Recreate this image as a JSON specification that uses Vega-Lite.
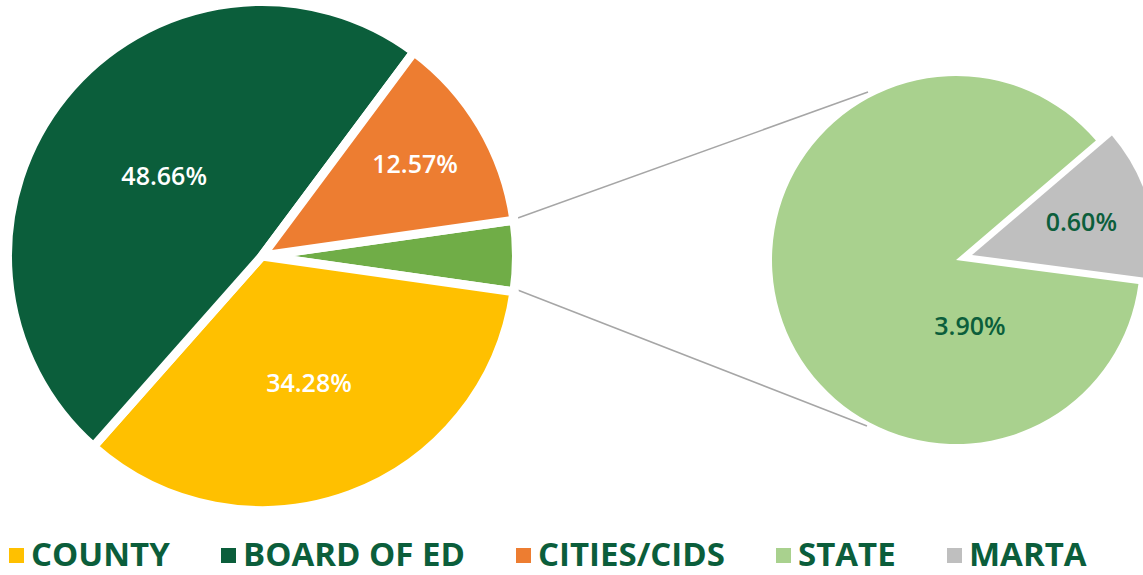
{
  "$schema": "https://vega.github.io/schema/vega-lite/v6.json",
  "width": 1143,
  "height": 575,
  "padding": 0,
  "autosize": {"type": "none"},
  "background": "white",
  "config": {"view": {"stroke": null}, "font": "Open Sans"},
  "datasets": {
    "main": [
      {"category": "STATE + MARTA", "value": 0.0449, "order": 1},
      {"category": "COUNTY", "value": 0.3428, "order": 2},
      {"category": "BOARD OF ED", "value": 0.4866, "order": 3},
      {"category": "CITIES/CIDS", "value": 0.1257, "order": 4}
    ],
    "detail": [
      {"category": "MARTA", "value": 0.006, "order": 1},
      {"category": "STATE", "value": 0.039, "order": 2}
    ]
  },
  "layer": [
    {
      "data": {"values": [{}]},
      "mark": {"type": "rule", "color": "#A6A6A6", "strokeWidth": 1.5},
      "encoding": {
        "x": {"datum": 45.06, "type": "quantitative", "scale": {"domain": [0, 100]}, "axis": null},
        "y": {"datum": 38.09, "type": "quantitative", "scale": {"domain": [100, 0]}, "axis": null},
        "x2": {"datum": 75.94},
        "y2": {"datum": 16.0}
      }
    },
    {
      "data": {"values": [{}]},
      "mark": {"type": "rule", "color": "#A6A6A6", "strokeWidth": 1.5},
      "encoding": {
        "x": {"datum": 45.06, "type": "quantitative", "scale": {"domain": [0, 100]}, "axis": null},
        "y": {"datum": 50.26, "type": "quantitative", "scale": {"domain": [100, 0]}, "axis": null},
        "x2": {"datum": 75.85},
        "y2": {"datum": 74.09}
      }
    },
    {
      "data": {"name": "main"},
      "encoding": {
        "x": {"datum": 22.92, "type": "quantitative", "scale": {"domain": [0, 100]}, "axis": null},
        "y": {"datum": 44.52, "type": "quantitative", "scale": {"domain": [100, 0]}, "axis": null},
        "theta": {"field": "value", "type": "quantitative", "stack": true, "scale": {"range": [1.4298, 7.713]}},
        "order": {"field": "order", "type": "quantitative"}
      },
      "layer": [
        {
          "mark": {"type": "arc", "outerRadius": 254.5, "stroke": "white", "strokeWidth": 9, "strokeJoin": "round"},
          "encoding": {
            "color": {
              "field": "category",
              "type": "nominal",
              "scale": {
                "domain": ["COUNTY", "BOARD OF ED", "CITIES/CIDS", "STATE", "MARTA", "STATE + MARTA"],
                "range": ["#FFC000", "#0B5E3B", "#ED7D31", "#A9D18E", "#BFBFBF", "#70AD47"]
              },
              "legend": {
                "values": ["COUNTY", "BOARD OF ED", "CITIES/CIDS", "STATE", "MARTA"],
                "orient": "none",
                "legendX": 0,
                "legendY": 539,
                "direction": "horizontal",
                "gridAlign": "none",
                "title": null,
                "symbolType": "square",
                "symbolSize": 225,
                "symbolStrokeWidth": 0,
                "labelFont": "Open Sans",
                "labelFontSize": 33,
                "labelFontWeight": "bold",
                "labelColor": "#0B5E3B",
                "labelLimit": 600,
                "labelOffset": -2,
                "columnPadding": 42,
                "padding": 0
              }
            }
          }
        },
        {
          "mark": {"type": "text", "font": "Open Sans", "fontSize": 25, "fontWeight": 600, "fill": "white"},
          "encoding": {
            "detail": {"field": "category", "type": "nominal"},
            "radius": {
              "field": "value",
              "type": "quantitative",
              "scale": {"type": "linear", "domain": [0.1257, 0.3428, 0.4866], "range": [178, 136, 126], "zero": false, "clamp": true}
            },
            "text": {
              "condition": {"test": "datum.category === 'STATE + MARTA'", "value": ""},
              "field": "value",
              "type": "quantitative",
              "format": ".2%"
            }
          }
        }
      ]
    },
    {
      "data": {"name": "detail"},
      "encoding": {
        "theta": {"field": "value", "type": "quantitative", "stack": true, "scale": {"range": [0.8639, 7.1471]}},
        "order": {"field": "order", "type": "quantitative"}
      },
      "layer": [
        {
          "mark": {"type": "arc", "outerRadius": 184},
          "encoding": {
            "x": {"datum": 83.64, "type": "quantitative", "scale": {"domain": [0, 100]}, "axis": null},
            "y": {"datum": 45.22, "type": "quantitative", "scale": {"domain": [100, 0]}, "axis": null},
            "color": {
              "field": "category",
              "type": "nominal",
              "scale": {
                "domain": ["COUNTY", "BOARD OF ED", "CITIES/CIDS", "STATE", "MARTA", "STATE + MARTA"],
                "range": ["#FFC000", "#0B5E3B", "#ED7D31", "#A9D18E", "#BFBFBF", "#70AD47"]
              }
            },
            "opacity": {"condition": {"test": "datum.category === 'MARTA'", "value": 0}, "value": 1}
          }
        },
        {
          "mark": {"type": "arc", "outerRadius": 184},
          "encoding": {
            "x": {"datum": 85.04, "type": "quantitative", "scale": {"domain": [0, 100]}, "axis": null},
            "y": {"datum": 44.35, "type": "quantitative", "scale": {"domain": [100, 0]}, "axis": null},
            "color": {
              "field": "category",
              "type": "nominal",
              "scale": {
                "domain": ["COUNTY", "BOARD OF ED", "CITIES/CIDS", "STATE", "MARTA", "STATE + MARTA"],
                "range": ["#FFC000", "#0B5E3B", "#ED7D31", "#A9D18E", "#BFBFBF", "#70AD47"]
              }
            },
            "opacity": {"condition": {"test": "datum.category === 'STATE'", "value": 0}, "value": 1}
          }
        },
        {
          "mark": {"type": "text", "radius": 114, "font": "Open Sans", "fontSize": 25, "fontWeight": 600, "fill": "#0B5E3B"},
          "encoding": {
            "x": {"datum": 85.04, "type": "quantitative", "scale": {"domain": [0, 100]}, "axis": null},
            "y": {"datum": 44.35, "type": "quantitative", "scale": {"domain": [100, 0]}, "axis": null},
            "detail": {"field": "category", "type": "nominal"},
            "text": {
              "condition": {"test": "datum.category === 'STATE'", "value": ""},
              "field": "value",
              "type": "quantitative",
              "format": ".2%"
            }
          }
        }
      ]
    },
    {
      "data": {"name": "detail"},
      "transform": [{"filter": "datum.category === 'STATE'"}],
      "mark": {"type": "text", "radius": 68, "font": "Open Sans", "fontSize": 25, "fontWeight": 600, "fill": "#0B5E3B"},
      "encoding": {
        "x": {"datum": 83.64, "type": "quantitative", "scale": {"domain": [0, 100]}, "axis": null},
        "y": {"datum": 45.22, "type": "quantitative", "scale": {"domain": [100, 0]}, "axis": null},
        "theta": {"field": "value", "type": "quantitative", "stack": true, "scale": {"range": [-0.2059, 6.0773]}},
        "detail": {"field": "category", "type": "nominal"},
        "text": {"field": "value", "type": "quantitative", "format": ".2%"}
      }
    }
  ],
  "resolve": {"scale": {"theta": "independent", "radius": "independent"}}
}
